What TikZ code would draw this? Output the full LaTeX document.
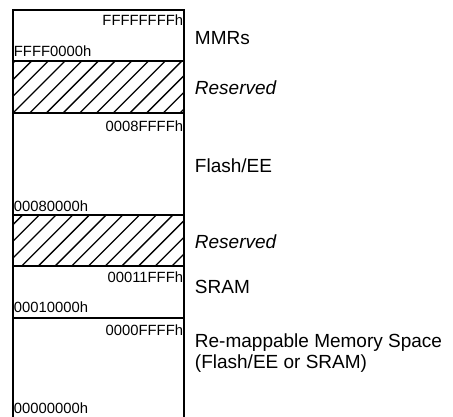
\documentclass[tikz,border=0pt]{standalone}
\usepackage{fontspec}
\setmainfont{Liberation Sans}
\usepackage{tikz}

\begin{document}
\begin{tikzpicture}[x=1pt,y=1pt,yscale=-1,xscale=1,
  addr/.style={inner sep=0.75pt,font=\fontsize{14.8}{16}\selectfont},
  region/.style={inner sep=0.75pt,anchor=base west,font=\fontsize{19}{22}\selectfont},
  wall/.style={line width=1.8pt},
  hatch/.style={line width=1.3pt}]

\useasboundingbox (0,0) rectangle (453,417);
\clip (0,0) rectangle (453,417);

% hatched reserved blocks
\begin{scope}
\clip (13,61) rectangle (184,113);
\foreach \i in {-4,...,12} \draw[hatch] (13+16.7*\i,113) -- (13+16.7*\i+52,61);
\end{scope}
\begin{scope}
\clip (13,215) rectangle (184,266);
\foreach \i in {-4,...,12} \draw[hatch] (5+16.7*\i,266) -- (5+16.7*\i+51,215);
\end{scope}

% memory column
\draw[wall] (13,430) -- (13,10) -- (184,10) -- (184,430);
\draw[wall] (13,61) -- (184,61);
\draw[wall] (13,113) -- (184,113);
\draw[wall] (13,215) -- (184,215);
\draw[wall] (13,266) -- (184,266);
\draw[wall] (13,318) -- (184,318);

% addresses
\draw (184,26) node (aTop) [addr,anchor=base east] {FFFFFFFFh};
\draw (13,57) node (aMMR) [addr,anchor=base west] {FFFF0000h};
\draw (184,131.5) node (aFlashTop) [addr,anchor=base east] {0008FFFFh};
\draw (13,211.5) node (aFlash) [addr,anchor=base west] {00080000h};
\draw (184,283) node (aSramTop) [addr,anchor=base east] {00011FFFh};
\draw (13,312.5) node (aSram) [addr,anchor=base west] {00010000h};
\draw (184,335) node (aRemapTop) [addr,anchor=base east] {0000FFFFh};
\draw (13,413) node (aRemap) [addr,anchor=base west] {00000000h};

% region names
\draw (194,45) node (lMMR) [region] {MMRs};
\draw (194,95) node (lRes1) [region] {\itshape Reserved};
\draw (194,173) node (lFlash) [region] {Flash/EE};
\draw (194,249) node (lRes2) [region] {\itshape Reserved};
\draw (194,293) node (lSram) [region] {SRAM};
\draw (194,347) node (lRemap) [region] {Re-mappable Memory Space};
\draw (194,368) node (lRemap2) [region] {(Flash/EE or SRAM)};

\end{tikzpicture}
\end{document}
